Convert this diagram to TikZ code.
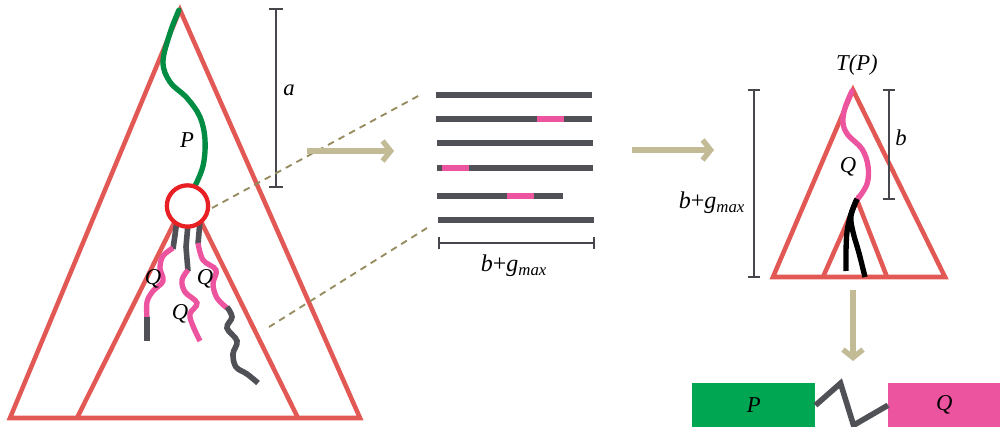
\documentclass[tikz,border=0pt]{standalone}
\usepackage{fontspec}
\setmainfont{Liberation Serif}
\usetikzlibrary{arrows.meta}
\definecolor{treered}{RGB}{226,88,84}
\definecolor{pathgreen}{RGB}{0,140,66}
\definecolor{boxgreen}{RGB}{0,166,81}
\definecolor{qpink}{RGB}{236,84,160}
\definecolor{stubgray}{RGB}{80,81,87}
\definecolor{bargray}{RGB}{70,71,76}
\definecolor{arrowkhaki}{RGB}{194,187,150}
\definecolor{dashkhaki}{RGB}{150,140,95}
\definecolor{ringred}{RGB}{232,32,36}
\newcommand{\bgmax}{\textit{b}+\textit{g}\textsubscript{\textit{max}}}

\begin{document}
\begin{tikzpicture}[x=0.75pt,y=0.75pt,yscale=-1,xscale=1,
  tree/.style={draw=treered, line width=3.4pt},
  ppath/.style={draw=pathgreen, line width=4pt, line cap=round},
  qpath/.style={draw=qpink, line width=4pt},
  stub/.style={draw=stubgray, line width=4.2pt},
  scalebar/.style={draw=bargray, line width=2.1pt},
  readbar/.style={draw=stubgray, line width=5pt},
  hitbar/.style={draw=qpink, line width=5pt},
  flow/.style={draw=arrowkhaki, line width=4pt, -{Straight Barb[length=6pt,width=15pt]}},
  zoomline/.style={draw=dashkhaki, line width=1.4pt, dash pattern=on 5pt off 4pt},
  lbl/.style={font=\fontsize{17}{20}\selectfont\itshape, inner sep=0.75pt},
  bglbl/.style={font=\fontsize{18}{21}\selectfont, inner sep=0.75pt},
  block/.style={minimum height=33pt, inner sep=0pt, font=\fontsize{17}{20}\selectfont\itshape}]
\path[use as bounding box] (0,0) rectangle (1000,427);

%Shape: outer tree
\draw [tree] (180,10) -- (10,418) -- (360,418) -- cycle ;
%Shape: inner tree
\draw [tree] (77,418) -- (188,195) -- (298,418) ;

%Scale bar a
\draw [scalebar] (276,9) -- (276,187) (269,9) -- (283,9) (269,187) -- (283,187) ;
\draw (289,90) node [lbl] (alabel) {a};

%Path P
\draw [ppath] plot [smooth, tension=0.6] coordinates {(179,10) (170,33) (163,62) (170,82) (187,98) (200,117) (205,140) (203,166) (194,188)} ;
\draw (187,140) node [lbl] (plabel) {P};

%Zoom lines
\coordinate (zoomtop) at (420,95);
\coordinate (zoombot) at (427,228);
\coordinate (ringedge) at (212,208);
\coordinate (treeedge) at (269,327);
\draw [zoomline] (ringedge) -- (zoomtop) ;
\draw [zoomline] (treeedge) -- (zoombot) ;

%Children, left
\draw [stub] (177,220) -- (175,235) -- (173,249) ;
\draw [qpath] plot [smooth, tension=0.6] coordinates {(173,248) (163,256) (160,268) (163,281) (153,291) (147,302) (147,318)} ;
\draw [stub] (147,317) -- (147,341) ;
%Children, middle
\draw [stub] (188,224) -- (186,247) -- (188,271) ;
\draw [qpath] plot [smooth, tension=0.6] coordinates {(188,270) (182,280) (185,292) (197,303) (190,314) (193,326) (200,341)} ;
%Children, right
\draw [stub] (200,221) -- (198,244) ;
\draw [qpath] plot [smooth, tension=0.6] coordinates {(198,243) (203,260) (216,270) (213,284) (217,298) (227,308)} ;
\draw [stub, line cap=butt] plot [smooth, tension=0.6] coordinates {(227,307) (232,317) (227,328) (237,341) (233,354) (236,367) (247,374) (258,383)} ;
\draw (153,279) node [lbl] (qleft) {Q};
\draw (180,314) node [lbl] (qmid) {Q};
\draw (205,279) node [lbl] (qright) {Q};

%Ring
\node [circle, draw=ringred, fill=white, line width=3.2pt, minimum size=31pt, inner sep=0pt] (ring) at (187.5,206) {};

%Arrows
\coordinate (flowa) at (307,151);
\coordinate (flowb) at (394,151);
\draw [flow] (flowa) -- (flowb) ;
\coordinate (flowc) at (632,150);
\coordinate (flowd) at (714,150);
\draw [flow] (flowc) -- (flowd) ;
\coordinate (flowe) at (853,290);
\coordinate (flowf) at (853,361);
\draw [flow] (flowe) -- (flowf) ;

%Reads
\draw [readbar] (436,95) -- (592,95) ;
\draw [readbar] (436,119) -- (592,119) ;
\draw [hitbar] (537,119) -- (564,119) ;
\draw [readbar] (437,143) -- (593,143) ;
\draw [readbar] (437,168) -- (593,168) ;
\draw [hitbar] (442,168) -- (469,168) ;
\draw [readbar] (437,196) -- (563,196) ;
\draw [hitbar] (507,196) -- (534,196) ;
\draw [readbar] (438,220) -- (594,220) ;
\draw [scalebar] (439,243) -- (594,243) (439,237) -- (439,249) (594,237) -- (594,249) ;
\draw (514,266) node [bglbl] (bgmid) {\bgmax};

%Subtree T(P)
\draw [tree] (853,90) -- (773,277) -- (945,277) -- cycle ;
\draw [tree] (823,277) -- (857,200) -- (887,277) ;
\draw [qpath, line cap=round] plot [smooth, tension=0.6] coordinates {(852,91) (845,108) (843,123) (848,135) (862,149) (868,166) (867,184) (857,200)} ;
\draw [draw=black, line width=4pt] plot [smooth, tension=0.6] coordinates {(857,199) (851,214) (847,232) (846,252) (846,271)} ;
\draw [draw=black, line width=4pt] plot [smooth, tension=0.6] coordinates {(857,199) (851,216) (853,232) (859,253) (865,277)} ;
\draw (857,65) node [lbl] (tplabel) {T(P)};
\draw (848,167) node [lbl] (qsub) {Q};
\draw [scalebar] (889,90) -- (889,199) (883,90) -- (895,90) (883,199) -- (895,199) ;
\draw (901,138) node [lbl] (blabel) {b};
\draw [scalebar] (754,90) -- (754,277) (748,90) -- (760,90) (748,277) -- (760,277) ;
\draw (712,203) node [bglbl] (bgright) {\bgmax};

%Result
\node [block, fill=boxgreen, minimum width=92.25pt, anchor=north west] (pblock) at (692,383) {P};
\node [block, fill=qpink, minimum width=84pt, anchor=north west] (qblock) at (888,383) {Q};
\draw [stub] (pblock.east) -- ++(25,-22) -- ++(13,42) -- (qblock.west) ;

\end{tikzpicture}
\end{document}
